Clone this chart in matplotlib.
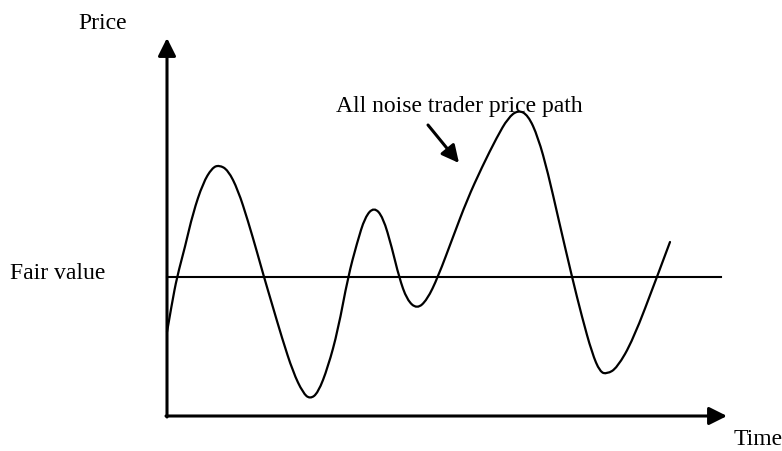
import matplotlib.pyplot as plt
from matplotlib.path import Path
from matplotlib.patches import PathPatch

plt.rcParams['font.family'] = ['Liberation Serif', 'DejaVu Serif']

# price path (time from origin, price above time axis)
time = [0, 5, 10, 18, 26, 36, 45, 52, 61, 71,
        81, 90, 97, 105, 115, 126, 136, 143, 151, 161,
        171, 181, 190, 198, 207, 216, 225, 232, 240, 250,
        260, 271, 286, 300, 315, 330, 341, 351, 361, 371,
        381, 391, 405, 415, 425, 433, 440, 450, 466, 490,
        503]
price = [84, 113, 139, 169, 203, 233, 248, 251, 246, 226,
         195, 164, 139, 112, 78, 44, 23, 17, 23, 49,
         86, 139, 173, 199, 209, 199, 168, 139, 116, 107,
         116, 139, 179, 216, 249, 279, 298, 306, 301, 279,
         243, 199, 139, 99, 63, 44, 42, 48, 76, 139,
         174]
fair_value = 139
time_end = 554

fig = plt.figure(figsize=(7.82, 4.51), dpi=100)
ax = fig.add_axes([0, 0, 1, 1])
ax.set_xlim(-167, 615)
ax.set_ylim(-35, 416)
ax.axis('off')

# axes with arrow heads
arrow = dict(arrowstyle='-|>', mutation_scale=27, lw=2.2, color='black',
             shrinkA=0, shrinkB=0)
ax.annotate('', xy=(0, 378), xytext=(0, -1), arrowprops=arrow)
ax.annotate('', xy=(560, 0), xytext=(-1, 0), arrowprops=arrow)

# fair value line
ax.plot([0, time_end], [fair_value, fair_value], color='black', lw=1.5)

# price path, smoothed with quadratic bezier segments through the read points
pts = list(zip(time, price))
verts = [pts[0]]
codes = [Path.MOVETO]
for i in range(1, len(pts) - 1):
    if i == len(pts) - 2:
        end = pts[-1]
    else:
        end = ((pts[i][0] + pts[i + 1][0]) / 2, (pts[i][1] + pts[i + 1][1]) / 2)
    verts += [pts[i], end]
    codes += [Path.CURVE3, Path.CURVE3]
ax.add_patch(PathPatch(Path(verts, codes), fill=False, edgecolor='black',
                       lw=1.6, capstyle='round'))

# pointer to the path
ax.annotate('', xy=(292, 253), xytext=(261, 291),
            arrowprops=dict(arrowstyle='-|>', mutation_scale=26, lw=2.2,
                            color='black', shrinkA=0, shrinkB=0))

fs = 17
ax.text(-89, 387, 'Price', fontsize=fs, ha='left', va='baseline')
ax.text(-157, 137, 'Fair value', fontsize=fs, ha='left', va='baseline')
ax.text(567, -29, 'Time', fontsize=fs, ha='left', va='baseline')
ax.text(169, 304, 'All noise trader price path', fontsize=fs,
        ha='left', va='baseline')

fig.savefig('out.png', dpi=100)
